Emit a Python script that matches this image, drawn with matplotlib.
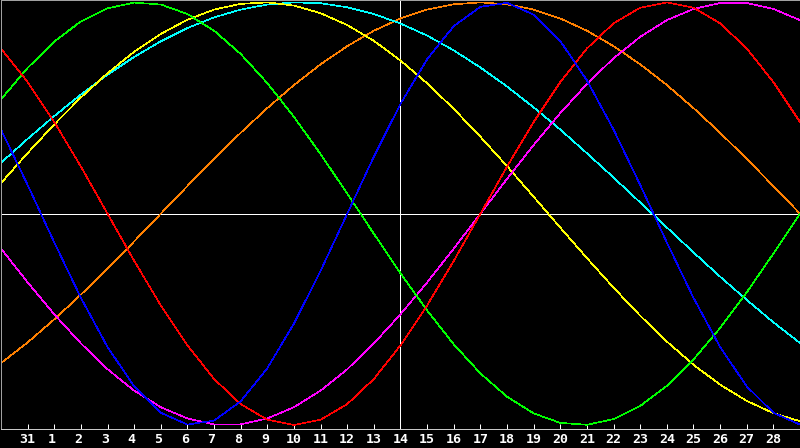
import matplotlib
matplotlib.use("Agg")
import matplotlib.pyplot as plt
from matplotlib.transforms import ScaledTranslation

# day numbers for each sample (index 0..30)
days = [30, 31] + list(range(1, 30))
tick_days = days[1:30]
today_index = 15

physical = [0.398, 0.136, -0.136, -0.398, -0.631, -0.817, -0.942, -0.998, -0.979, -0.888,
            -0.731, -0.520, -0.270, 0.000, 0.270, 0.520, 0.731, 0.888, 0.979, 0.998,
            0.942, 0.817, 0.631, 0.398, 0.136, -0.136, -0.398, -0.631, -0.817, -0.942, -0.998]
emotional = [0.782, 0.623, 0.434, 0.223, 0.000, -0.223, -0.434, -0.623, -0.782, -0.901,
             -0.975, -1.000, -0.975, -0.901, -0.782, -0.623, -0.434, -0.223, 0.000, 0.223,
             0.434, 0.623, 0.782, 0.901, 0.975, 1.000, 0.975, 0.901, 0.782, 0.623, 0.434]
intellectual = [0.541, 0.690, 0.815, 0.910, 0.972, 0.999, 0.990, 0.945, 0.866, 0.756,
                0.618, 0.458, 0.282, 0.095, -0.095, -0.282, -0.458, -0.618, -0.756, -0.866,
                -0.945, -0.990, -0.999, -0.972, -0.910, -0.815, -0.690, -0.541, -0.372, -0.189, 0.000]
intuitive = [-0.165, -0.325, -0.476, -0.614, -0.736, -0.837, -0.916, -0.969, -0.997, -0.997,
             -0.969, -0.916, -0.837, -0.736, -0.614, -0.476, -0.325, -0.165, 0.000, 0.165,
             0.325, 0.476, 0.614, 0.736, 0.837, 0.916, 0.969, 0.997, 0.997, 0.969, 0.916]
aesthetic = [0.145, 0.287, 0.423, 0.550, 0.665, 0.766, 0.851, 0.918, 0.966, 0.993,
             1.000, 0.985, 0.949, 0.893, 0.818, 0.725, 0.617, 0.496, 0.364, 0.225,
             0.080, -0.066, -0.210, -0.350, -0.483, -0.605, -0.715, -0.809, -0.886, -0.944, -0.982]
awareness = [-0.707, -0.609, -0.500, -0.383, -0.259, -0.131, 0.000, 0.131, 0.259, 0.383,
             0.500, 0.609, 0.707, 0.793, 0.866, 0.924, 0.966, 0.991, 1.000, 0.991,
             0.966, 0.924, 0.866, 0.793, 0.707, 0.609, 0.500, 0.383, 0.259, 0.131, 0.000]
spiritual = [0.241, 0.354, 0.462, 0.564, 0.658, 0.742, 0.816, 0.879, 0.929, 0.966,
             0.990, 1.000, 0.996, 0.977, 0.945, 0.900, 0.843, 0.773, 0.692, 0.602,
             0.503, 0.398, 0.286, 0.171, 0.053, -0.065, -0.183, -0.298, -0.408, -0.514, -0.612]

series = [
    (awareness, "#ff8000"),
    (spiritual, "#00ffff"),
    (aesthetic, "#ffff00"),
    (intuitive, "#ff00ff"),
    (intellectual, "#00ff00"),
    (emotional, "#ff0000"),
    (physical, "#0000ff"),
]

W, H = 800, 448
fig = plt.figure(figsize=(W / 100, H / 100), dpi=100, facecolor="black")
ax = fig.add_axes([0.5 / W, 19.5 / H, 799 / W, 428 / H], facecolor="black")

x = list(range(len(days)))
lw = 0.72     # one pixel
clw = 0.45    # thin aliased curve

ax.axhline(0, color="white", lw=lw, zorder=1, antialiased=False)
ax.axvline(today_index, color="white", lw=lw, zorder=1, antialiased=False)

for vals, col in series:
    ax.plot(x, vals, color=col, lw=clw, antialiased=False, zorder=2)

ax.set_xlim(-0.5 / (800 / 30), 30 - 0.5 / (800 / 30))
ax.set_ylim((213.7 - 428.5) / 211.3, (213.7 - 0.5) / 211.3)

for s in ("top", "left", "right"):
    ax.spines[s].set_color("#a0a0a0")
    ax.spines[s].set_linewidth(lw)
ax.spines["bottom"].set_color("#c8c8c8")
ax.spines["bottom"].set_linewidth(lw)

ax.set_yticks([])
ax.set_xticks(range(1, 30))
ax.set_xticklabels([str(d) for d in tick_days], fontfamily="DejaVu Sans Mono",
                   fontweight="bold", fontsize=9.5, color="white")
ax.tick_params(axis="x", direction="in", length=3.6, width=lw, color="white", pad=3.2)

off = ScaledTranslation(-2.5 / 100, 0, fig.dpi_scale_trans)
for lbl in ax.get_xticklabels():
    if len(lbl.get_text()) == 1:
        lbl.set_transform(lbl.get_transform() + off)

fig.savefig("out.png", dpi=100, facecolor="black")
